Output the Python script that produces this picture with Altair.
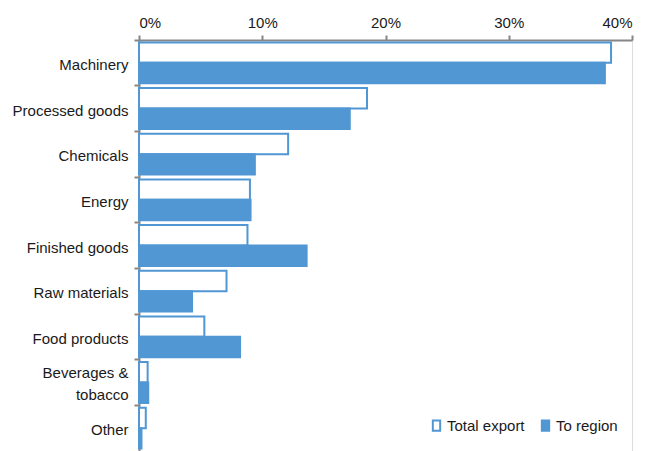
import altair as alt
import pandas as pd

categories = ["Machinery", "Processed goods", "Chemicals", "Energy", "Finished goods",
              "Raw materials", "Food products", "Beverages & tobacco", "Other"]
total_export = [38.3, 18.5, 12.1, 9.0, 8.8, 7.1, 5.3, 0.7, 0.55]
to_region = [37.8, 17.1, 9.4, 9.05, 13.6, 4.3, 8.2, 0.75, 0.2]
series = ["Total export", "To region"]

rows = []
for c, t, r in zip(categories, total_export, to_region):
    rows.append({"category": c, "series": series[0], "value": t / 100})
    rows.append({"category": c, "series": series[1], "value": r / 100})
df = pd.DataFrame(rows)

BLUE = "#5097D3"
FONT = "Liberation Sans"
FS = 15
TXT = "#1a1a1a"

legend = alt.Legend(title=None, orient="none", direction="horizontal",
                    legendX=290, legendY=378, symbolType="M-0.7,-1H0.7V1H-0.7Z",
                    symbolSize=110, symbolStrokeWidth=2, columnPadding=12,
                    labelFont=FONT, labelFontSize=FS, labelColor=TXT,
                    labelOffset=3)

chart = alt.Chart(df).mark_bar(strokeWidth=2).encode(
    x=alt.X("value:Q",
            scale=alt.Scale(domain=[0, 0.4], nice=False),
            axis=alt.Axis(orient="top", format=".0%", values=[0, 0.1, 0.2, 0.3, 0.4],
                          title=None, grid=False, domainColor="#868686", domainWidth=2,
                          tickColor="#868686", tickWidth=2, tickSize=5,
                          labelFont=FONT, labelFontSize=FS, labelColor=TXT,
                          labelPadding=5)),
    y=alt.Y("category:N", sort=categories,
            scale=alt.Scale(paddingInner=0, paddingOuter=0),
            axis=alt.Axis(title=None, domainColor="#868686", domainWidth=2,
                          tickColor="#868686", tickWidth=2, tickSize=5, bandPosition=0,
                          labelFont=FONT, labelFontSize=FS, labelColor=TXT,
                          labelPadding=6, labelLimit=200, labelLineHeight=22,
                          labelOffset={"condition": {"test": "datum.label == 'Beverages & tobacco'",
                                                     "value": -10},
                                       "value": 2},
                          labelExpr="datum.label == 'Beverages & tobacco' ? ['Beverages &', 'tobacco'] : datum.label")),
    yOffset=alt.YOffset("series:N", sort=series,
                        scale=alt.Scale(paddingInner=0, paddingOuter=0.12)),
    fill=alt.Fill("series:N", sort=series,
                  scale=alt.Scale(domain=series, range=["white", BLUE]),
                  legend=legend),
    stroke=alt.Stroke("series:N", sort=series,
                      scale=alt.Scale(domain=series, range=[BLUE, BLUE]),
                      legend=legend),
).properties(
    width=493, height=411,
    autosize=alt.AutoSizeParams(type="none"),
    padding={"left": 139, "top": 40, "right": 30, "bottom": 0},
).configure_view(stroke=None).configure(background="white")

chart.save("out.html", embed_options={"renderer": "svg", "actions": False})
